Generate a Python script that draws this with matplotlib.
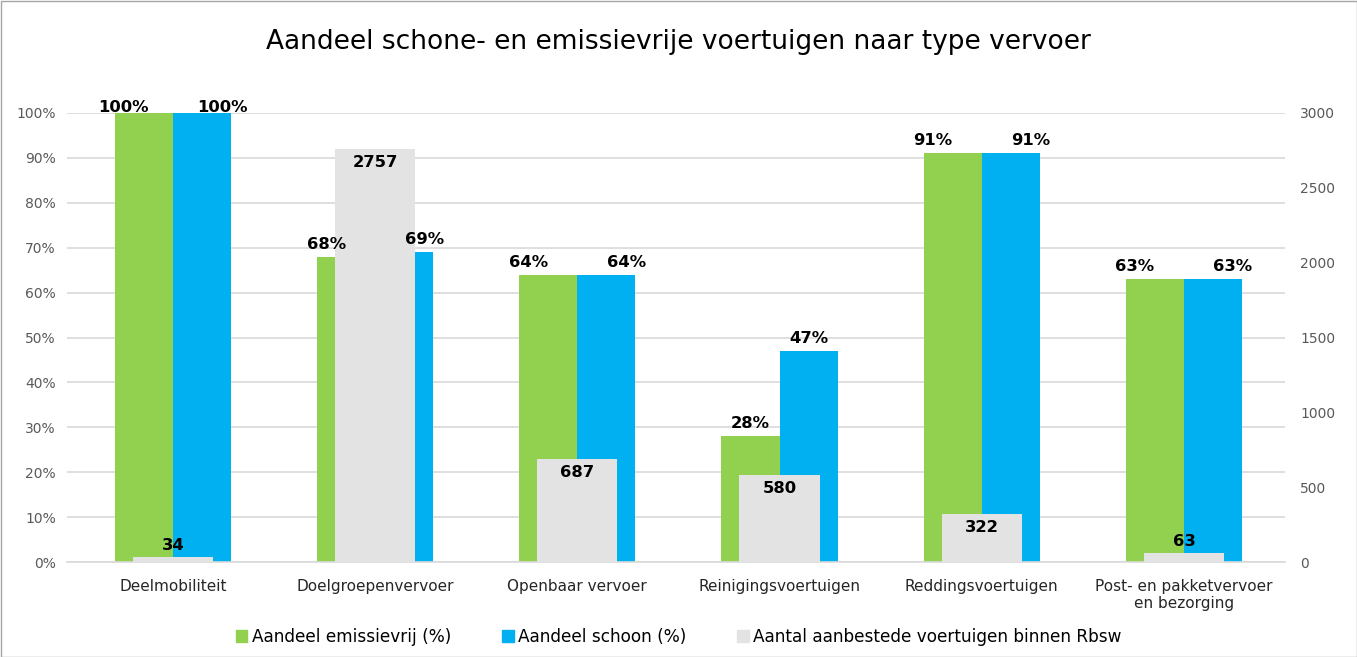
import numpy as np
import matplotlib
matplotlib.use("Agg")
import matplotlib.pyplot as plt
from matplotlib.patches import Rectangle
from matplotlib.transforms import offset_copy

categories = ["Deelmobiliteit", "Doelgroepenvervoer", "Openbaar vervoer",
              "Reinigingsvoertuigen", "Reddingsvoertuigen",
              "Post- en pakketvervoer\nen bezorging"]
emissievrij = [100, 68, 64, 28, 91, 63]   # %
schoon = [100, 69, 64, 47, 91, 63]        # %
aantal = [34, 2757, 687, 580, 322, 63]

green = "#92d050"
blue = "#00b0f0"
grey = "#e3e3e3"
tick_col = "#595959"

plt.rcParams['font.family'] = ['DejaVu Sans']

fig = plt.figure(figsize=(13.57, 6.57), dpi=100)
ax = fig.add_axes([67/1357, 1 - 562/657, 1218/1357, 449/657])
ax2 = ax.twinx()

x = np.arange(len(categories))
w = 0.287
ax.bar(x - w/2, emissievrij, w, color=green, zorder=2)
ax.bar(x + w/2, schoon, w, color=blue, zorder=2)
ax2.bar(x, aantal, 0.396, color=grey, zorder=2)

ax.set_ylim(0, 100)
ax.set_xlim(-0.524, len(categories) - 0.5)
ax2.set_ylim(0, 3000)
ax.set_yticks(np.arange(0, 101, 10))
ax.set_yticklabels([f"{v}%" for v in range(0, 101, 10)])
ax2.set_yticks(np.arange(0, 3001, 500))
ax.set_xticks(x)
ax.set_xticklabels(categories)
ax.yaxis.grid(True, color="#d9d9d9", linewidth=1.2, zorder=0)
ax.set_axisbelow(True)

for a in (ax, ax2):
    for s in a.spines.values():
        s.set_visible(False)
    a.tick_params(length=0, labelsize=10, labelcolor=tick_col)
ax.spines['bottom'].set_visible(True)
ax.spines['bottom'].set_color("#d9d9d9")
ax.spines['bottom'].set_linewidth(1.2)
ax.tick_params(axis='x', pad=12, labelcolor="#262626", labelsize=11)
ax.tick_params(axis='y', pad=8)
ax2.tick_params(axis='y', pad=11)

# percentage labels, drawn on ax2 so they stay above the grey bars
for i in range(len(categories)):
    shift = 20 if abs(emissievrij[i] - schoon[i]) < 5 else 0
    tg = offset_copy(ax.transData, fig=fig, x=-shift, y=5, units='dots')
    tb = offset_copy(ax.transData, fig=fig, x=shift, y=5, units='dots')
    ax2.text(x[i] - w/2, min(emissievrij[i], 98.5), f"{emissievrij[i]}%",
             transform=tg, ha='center', va='bottom', fontsize=11.8,
             fontweight='bold', zorder=5)
    ax2.text(x[i] + w/2, min(schoon[i], 98.5), f"{schoon[i]}%",
             transform=tb, ha='center', va='bottom', fontsize=11.8,
             fontweight='bold', zorder=5)

# count labels
for i, v in enumerate(aantal):
    if v > 200:
        ax2.text(x[i], v - 40, str(v), ha='center', va='top', fontsize=11.8,
                 fontweight='bold', zorder=5)
    else:
        ax2.text(x[i], v + 25, str(v), ha='center', va='bottom', fontsize=11.8,
                 fontweight='bold', zorder=5)

fig.suptitle("Aandeel schone- en emissievrije voertuigen naar type vervoer",
             y=1 - 42/657, va='center', fontsize=19, color="#000000")

handles = [Rectangle((0, 0), 1, 1, color=c) for c in (green, blue, grey)]
labels = ["Aandeel emissievrij (%)", "Aandeel schoon (%)",
          "Aantal aanbestede voertuigen binnen Rbsw"]
fig.legend(handles, labels, loc='center', bbox_to_anchor=(0.5, 1 - 637/657),
           ncol=3, frameon=False, fontsize=12.2, handlelength=0.7,
           handleheight=0.7, handletextpad=0.25, columnspacing=3.0)

fig.patches.append(Rectangle((0.5/1357, 0.5/657), 1 - 1/1357, 1 - 1/657,
                             transform=fig.transFigure, fill=False,
                             edgecolor="#a6a6a6", linewidth=1))

fig.savefig("out.png", dpi=100)
